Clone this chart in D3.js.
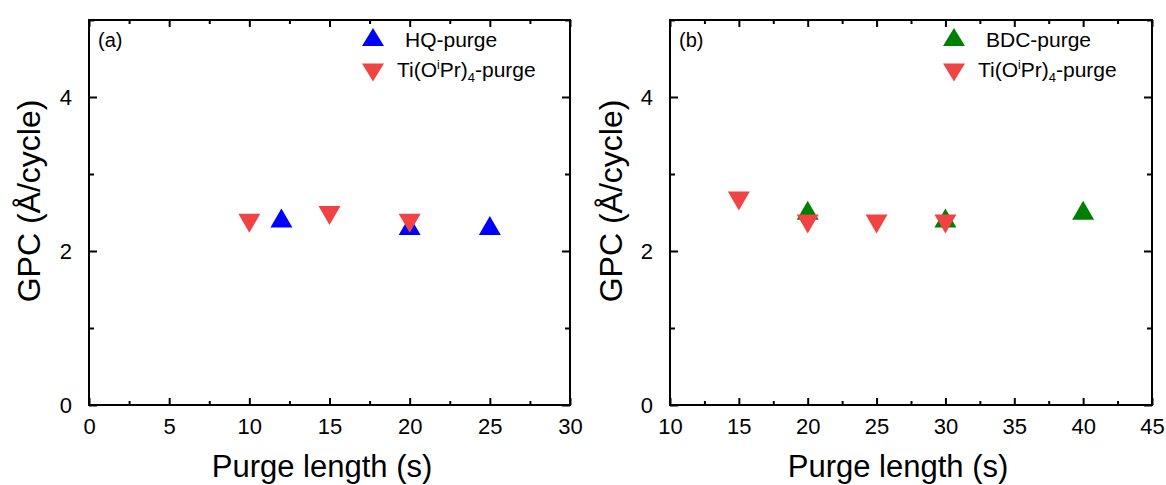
<!DOCTYPE html>
<html>
<head>
<meta charset="utf-8">
<script src="https://cdn.jsdelivr.net/npm/d3@7"></script>
<style>
  html, body { margin: 0; padding: 0; background: #fff; }
  svg { display: block; font-family: "Liberation Sans", Arial, sans-serif; }
</style>
</head>
<body>
<svg id="chart" width="1166" height="485"></svg>
<script>
// Growth per cycle vs purge length, two panels
const panelAUpX = [12, 20, 25];             // HQ-purge (s)
const panelAUpY = [2.43, 2.33, 2.33];       // GPC (Å/cycle)
const panelADownX = [10, 15, 20];           // Ti(OiPr)4-purge (s)
const panelADownY = [2.36, 2.46, 2.36];

const panelBUpX = [20, 30, 40];             // BDC-purge (s)
const panelBUpY = [2.53, 2.43, 2.53];
const panelBDownX = [15, 20, 25, 30];       // Ti(OiPr)4-purge (s)
const panelBDownY = [2.65, 2.35, 2.35, 2.35];

const yMajorTicks = [0, 2, 4];
const yMinorTicks = [1, 3, 5];
const xTicksA = [0, 5, 10, 15, 20, 25, 30];
const xTicksB = [10, 15, 20, 25, 30, 35, 40, 45];

const svg = d3.select("#chart");
const plotTop = 20, plotBottom = 405;

const y = d3.scaleLinear().domain([0, 5]).range([plotBottom, plotTop]);

function triangle(up, w, h) {
  const p = d3.path();
  if (up) {
    p.moveTo(0, -h / 2); p.lineTo(w / 2, h / 2); p.lineTo(-w / 2, h / 2);
  } else {
    p.moveTo(0, h / 2); p.lineTo(w / 2, -h / 2); p.lineTo(-w / 2, -h / 2);
  }
  p.closePath();
  return p.toString();
}

function minorsOf(ticks) {
  const out = [];
  for (let i = 0; i < ticks.length - 1; i++) out.push((ticks[i] + ticks[i + 1]) / 2);
  return out;
}

function drawPanel(opts) {
  const x = d3.scaleLinear().domain(opts.xDomain).range([opts.left, opts.right]);
  const g = svg.append("g");
  const width = opts.right - opts.left;

  const styleAxis = sel => {
    sel.select(".domain").remove();
    sel.selectAll(".tick line").attr("stroke", "#000").attr("stroke-width", 2);
    sel.selectAll(".tick text").attr("font-size", 22).attr("fill", "#000")
      .attr("font-family", '"Liberation Sans", Arial, sans-serif');
  };

  // bottom axis
  g.append("g").attr("transform", `translate(0,${plotBottom})`)
    .call(d3.axisBottom(x).tickValues(opts.xTicks).tickSize(-7).tickPadding(13).tickFormat(d3.format("d")))
    .call(styleAxis);
  g.append("g").attr("transform", `translate(0,${plotBottom})`)
    .call(d3.axisBottom(x).tickValues(minorsOf(opts.xTicks)).tickSize(-4).tickFormat(""))
    .call(styleAxis);
  // top axis
  g.append("g").attr("transform", `translate(0,${plotTop})`)
    .call(d3.axisTop(x).tickValues(opts.xTicks).tickSize(-7).tickFormat(""))
    .call(styleAxis);
  g.append("g").attr("transform", `translate(0,${plotTop})`)
    .call(d3.axisTop(x).tickValues(minorsOf(opts.xTicks)).tickSize(-4).tickFormat(""))
    .call(styleAxis);
  // left axis
  g.append("g").attr("transform", `translate(${opts.left},0)`)
    .call(d3.axisLeft(y).tickValues(yMajorTicks).tickSize(-8).tickPadding(17).tickFormat(d3.format("d")))
    .call(styleAxis);
  g.append("g").attr("transform", `translate(${opts.left},0)`)
    .call(d3.axisLeft(y).tickValues(yMinorTicks).tickSize(-5).tickFormat(""))
    .call(styleAxis);
  // right axis
  g.append("g").attr("transform", `translate(${opts.right},0)`)
    .call(d3.axisRight(y).tickValues(yMajorTicks).tickSize(-8).tickFormat(""))
    .call(styleAxis);
  g.append("g").attr("transform", `translate(${opts.right},0)`)
    .call(d3.axisRight(y).tickValues(yMinorTicks).tickSize(-5).tickFormat(""))
    .call(styleAxis);

  // frame
  g.append("rect")
    .attr("x", opts.left).attr("y", plotTop)
    .attr("width", width).attr("height", plotBottom - plotTop)
    .attr("fill", "none").attr("stroke", "#000").attr("stroke-width", 2);

  // markers: up-triangles first, down-triangles on top
  const upPts = opts.upX.map((d, i) => [d, opts.upY[i]]);
  const downPts = opts.downX.map((d, i) => [d, opts.downY[i]]);
  g.selectAll(".up").data(upPts).join("path")
    .attr("d", triangle(true, 22, 19))
    .attr("transform", d => `translate(${x(d[0])},${y(d[1])})`)
    .attr("fill", opts.upColor);
  g.selectAll(".down").data(downPts).join("path")
    .attr("d", triangle(false, 22, 19))
    .attr("transform", d => `translate(${x(d[0])},${y(d[1])})`)
    .attr("fill", "#f04343");

  // panel tag
  g.append("text").attr("x", opts.left + 9).attr("y", 47)
    .attr("font-size", 20).text(opts.tag);

  // legend
  g.append("path").attr("d", triangle(true, 22, 18))
    .attr("transform", `translate(${opts.legX},37)`).attr("fill", opts.upColor);
  g.append("path").attr("d", triangle(false, 22, 18))
    .attr("transform", `translate(${opts.legX},72.5)`).attr("fill", "#f04343");
  g.append("text").attr("x", opts.legX + 32).attr("y", 47)
    .attr("font-size", 21).text(opts.upName);
  const t = g.append("text").attr("x", opts.legX + 24).attr("y", 77).attr("font-size", 21);
  t.append("tspan").text("Ti(O");
  t.append("tspan").attr("font-size", 12).attr("dy", -8).text("i");
  t.append("tspan").attr("dy", 8).text("Pr)");
  t.append("tspan").attr("font-size", 13).attr("dy", 5).text("4");
  t.append("tspan").attr("dy", -5).text("-purge");

  // axis titles
  g.append("text").attr("x", opts.xLabelX).attr("y", 477)
    .attr("text-anchor", "middle").attr("font-size", 31).text("Purge length (s)");
  g.append("text")
    .attr("transform", `translate(${opts.yLabelX},201) rotate(-90)`)
    .attr("text-anchor", "middle").attr("font-size", 32).text("GPC (Å/cycle)");
}

drawPanel({
  left: 89, right: 570, xDomain: [0, 30], xTicks: xTicksA,
  upX: panelAUpX, upY: panelAUpY, downX: panelADownX, downY: panelADownY,
  upColor: "#0000ff", upName: "HQ-purge", tag: "(a)",
  legX: 373, xLabelX: 322, yLabelX: 40
});

drawPanel({
  left: 670, right: 1152, xDomain: [10, 45], xTicks: xTicksB,
  upX: panelBUpX, upY: panelBUpY, downX: panelBDownX, downY: panelBDownY,
  upColor: "#008000", upName: "BDC-purge", tag: "(b)",
  legX: 954, xLabelX: 898, yLabelX: 622
});
</script>
</body>
</html>
